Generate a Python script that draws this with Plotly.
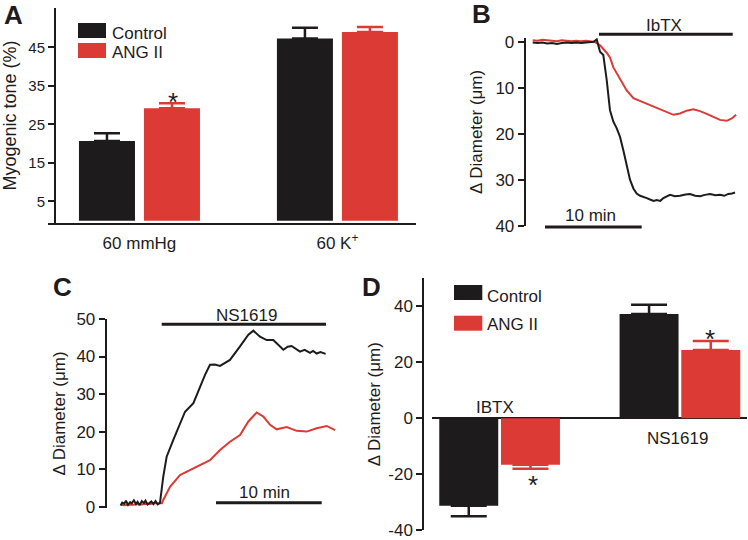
import plotly.graph_objects as go

# ---------------- data ----------------
# Panel A: myogenic tone (%)
a_categories = ["60 mmHg", "60 K<sup>+</sup>"]
a_control = [20.7, 47.3]
a_control_se = [2.0, 2.8]
a_angii = [29.2, 49.0]
a_angii_se = [1.3, 1.3]

# Panel B: IbTX trace (time in min, change in diameter in µm)
b_time_control = [0, 0.5, 1.0, 1.5, 2.0, 2.5, 3.0, 3.5, 4.0, 4.5, 5.0, 5.5, 6.0, 6.3, 6.62,
                  6.96, 7.30, 7.65, 7.99, 8.34, 8.68, 9.03, 9.37, 9.72, 10.06, 10.41, 10.75,
                  11.1, 11.44, 11.8, 12.13, 12.5, 12.82, 13.2, 13.51, 13.9, 14.20, 14.7, 15.23,
                  15.8, 16.27, 16.8, 17.30, 17.8, 18.34, 18.9, 19.37, 19.8, 20.23, 20.6, 20.92]
b_control = [0.2, 0.3, 0.2, 0.4, 0.3, 0.5, 0.3, 0.2, 0.3, 0.2, 0.3, 0.2, 0.1, 0.0, -0.5,
             2.2, 2.9, 8.3, 14.9, 17.4, 18.8, 20.7, 23.6, 27.2, 30.0, 31.9, 33.0,
             33.5, 33.7, 34.0, 34.3, 34.6, 34.4, 34.6, 34.0, 33.7, 33.3, 33.6, 33.5,
             33.2, 33.1, 33.5, 33.6, 33.3, 33.1, 33.4, 33.3, 33.5, 33.1, 33.0, 32.8]
b_time_angii = [0, 0.5, 1.0, 1.5, 2.0, 2.5, 3.0, 3.5, 4.0, 4.5, 5.0, 5.5, 6.0, 6.3, 6.62,
                6.96, 7.65, 8.0, 8.34, 9.03, 9.72, 10.41, 11.1, 11.79, 12.82, 13.86, 14.55,
                15.23, 15.92, 16.61, 17.30, 17.99, 18.68, 19.37, 20.06, 20.58, 21.03]
b_angii = [-0.3, -0.2, -0.4, -0.3, -0.2, -0.1, -0.3, -0.2, -0.1, -0.2, -0.1, -0.2, -0.1, 0.0, 0.3,
           0.8, 2.4, 3.5, 5.6, 8.0, 10.6, 12.3, 12.9, 13.6, 14.4, 15.4, 15.9,
           15.6, 15.0, 14.7, 15.1, 15.7, 16.4, 17.0, 17.2, 16.7, 15.9]

# Panel C: NS1619 trace
c_time_control = [0.0, 0.15, 0.35, 0.5, 0.7, 0.9, 1.05, 1.25, 1.45, 1.6, 1.8, 2.0, 2.2, 2.35,
                  2.55, 2.75, 2.9, 3.1, 3.3, 3.5, 3.72, 4.03, 4.35, 4.98, 5.61, 6.09, 6.88,
                  7.5, 7.98, 8.45, 8.9, 9.4, 10.34, 11.29, 12.08, 12.55, 13.18, 13.81, 14.44,
                  15.39, 15.8, 16.17, 16.6, 16.96, 17.4, 17.91, 18.2, 18.54, 18.9, 19.39]
c_control = [0.3, 1.1, 0.8, 1.6, 0.5, 1.2, 0.9, 1.7, 0.7, 1.3, 0.4, 1.5, 1.0, 1.6, 0.6,
             1.1, 1.4, 0.7, 1.5, 0.6, 1.0, 8.0, 13.3, 17.8, 22.2, 25.3, 27.6,
             32.0, 35.1, 37.8, 37.9, 37.5, 39.1, 42.7, 45.8, 46.9, 45.3, 44.4, 44.4,
             41.8, 42.6, 42.8, 42.0, 41.3, 41.8, 41.0, 41.5, 40.8, 41.2, 40.7]
c_time_angii = [0, 0.4, 0.8, 1.2, 1.6, 2.0, 2.4, 2.8, 3.2, 3.6, 3.9, 4.03, 4.67, 5.61, 6.56,
                7.5, 8.45, 9.4, 10.34, 11.29, 12.08, 12.87, 13.5, 14.13, 14.76, 15.7, 16.65,
                17.6, 18.54, 19.5, 20.28]
c_angii = [0.5, 0.4, 0.6, 0.5, 0.7, 0.6, 0.8, 0.7, 0.9, 0.8, 0.9, 1.8, 5.3, 8.4, 9.8,
           11.1, 12.4, 15.1, 17.3, 19.1, 22.7, 25.1, 24.0, 21.8, 20.6, 21.2, 20.2,
           20.0, 20.9, 21.5, 20.4]

# Panel D: summary of diameter change (µm)
d_categories = ["IBTX", "NS1619"]
d_control = [-31.3, 37.2]
d_control_se = [3.8, 3.3]
d_angii = [-16.7, 24.4]
d_angii_se = [1.4, 3.2]

# ---------------- style / layout helpers ----------------
W, H = 748, 540
BLACK = "#1e1b1c"
RED = "#dc3a35"
FONT = "Liberation Sans, Arial, sans-serif"


def px(x):
    return x / W


def py(y):
    return 1 - y / H


def plus_minus(vals, se):
    plus = [s if v >= 0 else 0 for v, s in zip(vals, se)]
    minus = [s if v < 0 else 0 for v, s in zip(vals, se)]
    return plus, minus


fig = go.Figure()

# ---- Panel A bars ----
for vals, se, color, off, name in [
    (a_control, a_control_se, BLACK, -0.3056, "Control"),
    (a_angii, a_angii_se, RED, 0.0227, "ANG II"),
]:
    p, m = plus_minus(vals, se)
    fig.add_trace(go.Bar(
        x=a_categories, y=vals, name=name, xaxis="x", yaxis="y",
        marker=dict(color=color, line=dict(width=0)), width=0.283, offset=off,
        error_y=dict(type="data", array=p, arrayminus=m, symmetric=False,
                     color=color, thickness=2.5, width=13),
        showlegend=False, hoverinfo="x+y"))

# ---- Panel B traces ----
fig.add_trace(go.Scatter(x=b_time_angii, y=b_angii, mode="lines", xaxis="x2", yaxis="y2",
                         line=dict(color=RED, width=2), name="ANG II", showlegend=False))
fig.add_trace(go.Scatter(x=b_time_control, y=b_control, mode="lines", xaxis="x2", yaxis="y2",
                         line=dict(color=BLACK, width=2), name="Control", showlegend=False))

# ---- Panel C traces ----
fig.add_trace(go.Scatter(x=c_time_angii, y=c_angii, mode="lines", xaxis="x3", yaxis="y3",
                         line=dict(color=RED, width=2), name="ANG II", showlegend=False))
fig.add_trace(go.Scatter(x=c_time_control, y=c_control, mode="lines", xaxis="x3", yaxis="y3",
                         line=dict(color=BLACK, width=2), name="Control", showlegend=False))

# ---- Panel D bars ----
for vals, se, color, off, name in [
    (d_control, d_control_se, BLACK, -0.335, "Control"),
    (d_angii, d_angii_se, RED, 0.0072, "ANG II"),
]:
    p, m = plus_minus(vals, se)
    fig.add_trace(go.Bar(
        x=d_categories, y=vals, name=name, xaxis="x4", yaxis="y4",
        marker=dict(color=color, line=dict(width=0)), width=0.327, offset=off,
        error_y=dict(type="data", array=p, arrayminus=m, symmetric=False,
                     color=color, thickness=2.5, width=18),
        showlegend=False, hoverinfo="x+y"))

axis_common = dict(showgrid=False, zeroline=False, linecolor=BLACK, linewidth=2,
                   tickcolor=BLACK, tickwidth=2, ticklen=6, ticks="outside", automargin=False,
                   tickfont=dict(size=17, color=BLACK, family=FONT))

fig.update_layout(
    width=W, height=H, autosize=False,
    margin=dict(l=0, r=0, t=0, b=0, pad=0),
    paper_bgcolor="white", plot_bgcolor="rgba(0,0,0,0)",
    font=dict(family=FONT, color=BLACK, size=17),
    barmode="overlay", showlegend=False,
    # Panel A
    xaxis=dict(domain=[px(48), px(416)], anchor="y", type="category", automargin=False,
               range=[-0.462, 1.397], showline=True, linecolor=BLACK, linewidth=2,
               ticks="", showgrid=False, zeroline=False, ticklabelstandoff=4,
               tickfont=dict(size=17, color=BLACK, family=FONT)),
    yaxis=dict(domain=[py(223), py(8)], anchor="free", position=px(55),
               range=[-0.6, 55.2], tickvals=[5, 15, 25, 35, 45], showline=True,
               title=dict(text="Myogenic tone (%)", font=dict(size=18, color=BLACK), standoff=8),
               **{**axis_common, "tickfont": dict(size=15, color=BLACK, family=FONT)}),
    # Panel B
    xaxis2=dict(domain=[px(525.7), 1], anchor="y2", range=[-0.724, 22.26], visible=False,
                automargin=False),
    yaxis2=dict(domain=[py(225.7), py(38.0)], anchor="x2", range=[40, -0.8],
                tickvals=[0, 10, 20, 30, 40], showline=True,
                title=dict(text="Δ Diameter (μm)", font=dict(size=17, color=BLACK), standoff=8),
                **axis_common),
    # Panel C
    xaxis3=dict(domain=[px(106.7), px(345)], anchor="y3", range=[-1.32, 21.22], visible=False,
                automargin=False),
    yaxis3=dict(domain=[py(507.8), py(319)], anchor="x3", range=[-0.3, 50],
                tickvals=[0, 10, 20, 30, 40, 50], showline=True,
                title=dict(text="Δ Diameter (μm)", font=dict(size=17, color=BLACK), standoff=6),
                **axis_common),
    # Panel D
    xaxis4=dict(domain=[px(431.7), px(746.7)], anchor="y4", type="category", automargin=False,
                range=[-0.377, 1.370], showticklabels=False, ticks="",
                showline=False, showgrid=False, zeroline=False),
    yaxis4=dict(domain=[py(530), py(278.3)], anchor="free", position=px(423.3),
                range=[-40, 50], tickvals=[-40, -20, 0, 20, 40],
                ticktext=["-40", "-20", "0", "20", "40"], showline=True,
                title=dict(text="Δ Diameter (μm)", font=dict(size=17, color=BLACK), standoff=2),
                **{**axis_common, "zeroline": True, "zerolinecolor": BLACK, "zerolinewidth": 2}),
)

shapes = []
annotations = []


def hline(x0, x1, y, w=3):
    shapes.append(dict(type="line", xref="paper", yref="paper", x0=px(x0), x1=px(x1),
                       y0=py(y), y1=py(y), line=dict(color=BLACK, width=w)))


def rect(x0, x1, y0, y1, color):
    shapes.append(dict(type="rect", xref="paper", yref="paper", x0=px(x0), x1=px(x1),
                       y0=py(y1), y1=py(y0), fillcolor=color, line=dict(width=0)))


def label(text, x, y, size=17, xanchor="center", bold=False):
    annotations.append(dict(text=f"<b>{text}</b>" if bold else text, x=px(x), y=py(y),
                            xref="paper", yref="paper", xanchor=xanchor, yanchor="middle",
                            showarrow=False, font=dict(size=size, color=BLACK, family=FONT)))


# panel letters
label("A", 13, 15.5, size=26, bold=True)
label("B", 481, 14, size=26, bold=True)
label("C", 62.5, 287, size=26, bold=True)
label("D", 371, 287, size=26, bold=True)

# legends (A and D)
rect(78, 106, 23, 38, BLACK)
rect(78, 106, 43, 58, RED)
label("Control", 110, 33, xanchor="left")
label("ANG II", 110, 53, xanchor="left")
rect(454, 482.3, 285, 300, BLACK)
rect(454, 482.3, 315.7, 330.7, RED)
label("Control", 485, 296, xanchor="left")
label("ANG II", 485, 324.5, xanchor="left")

# treatment & scale bars
hline(599, 732.7, 34.3)
label("IbTX", 664, 25.5)
hline(545, 641.7, 227)
label("10 min", 590, 215)
hline(161.7, 326, 324.3)
label("NS1619", 246, 315.5)
hline(216, 321.7, 502.7)
label("10 min", 264, 492)

# significance stars
label("*", 173, 102, size=26)
label("*", 710, 339, size=26)
label("*", 532.5, 485, size=26)

# panel D group labels
label("IBTX", 494.7, 407.5)
label("NS1619", 677.5, 438.5)

fig.update_layout(shapes=shapes, annotations=annotations)
# remove the browser's default 8px body margin so the 748x540 figure fills the window
fig.write_html("out.html", config={"displayModeBar": False},
               post_script="document.body.style.margin='0';document.body.style.overflow='hidden';")
